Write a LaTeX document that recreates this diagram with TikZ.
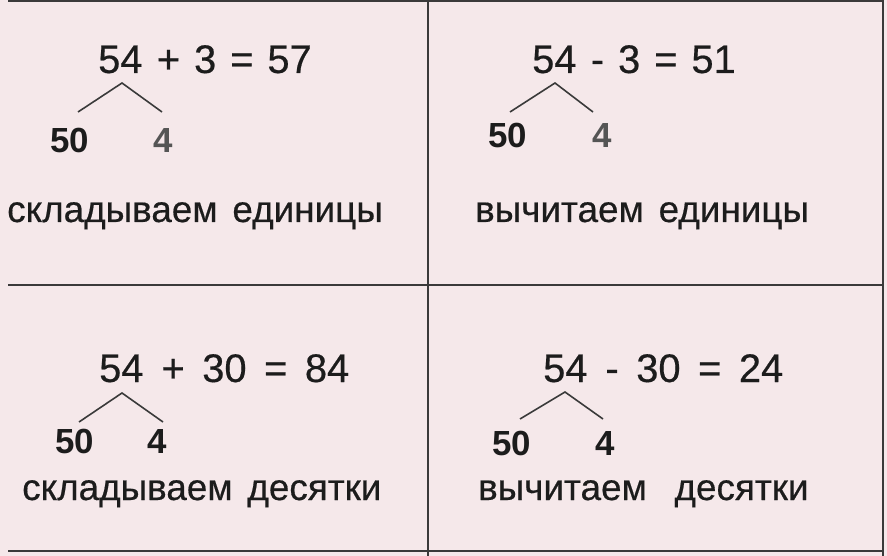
\documentclass[tikz,border=0pt]{standalone}
\usepackage{fontspec}
\setmainfont{Liberation Sans}
\newfontfamily\printfont[FakeBold=0.45]{Liberation Sans}
\newcommand\eqnfont{\printfont\fontsize{40}{40}\selectfont\spaceskip=0.35em\relax}
\newcommand\eqnwidefont{\printfont\fontsize{40}{40}\selectfont\spaceskip=0.44em\relax}
\newcommand\wordfont{\printfont\fontsize{37}{37}\selectfont\spaceskip=0.4em\relax}
\definecolor{paper}{HTML}{F5E8EA}
\definecolor{ink}{HTML}{1C1C1C}
\definecolor{greyink}{HTML}{555555}
\definecolor{rule}{HTML}{3A3A3A}
\tikzset{
  eqn/.style={anchor=base west, inner sep=0pt, text=ink, font=\eqnfont},
  eqnwide/.style={eqn, font=\eqnwidefont},
  part/.style={anchor=base west, inner sep=0pt, text=ink, font=\fontsize{35}{35}\selectfont\bfseries},
  word/.style={anchor=base west, inner sep=0pt, text=ink, font=\wordfont},
  branch/.style={draw=rule, line width=1.6bp},
  grid/.style={draw=rule, line width=2.6bp}
}
\begin{document}
\begin{tikzpicture}[x=1bp, y=-1bp]
        \fill[paper] (0,0) rectangle (887,556);
        \useasboundingbox (0,0) rectangle (887,556);

        % table rules
        \draw[grid] (8,1) -- (883,1);
        \draw[grid] (8,285) -- (883,285);
        \draw[grid] (8,551) -- (883,551);
        \draw[grid] (428,0) -- (428,556);
        \draw[grid] (883,0) -- (883,556);

        % top left
        \node(a54) at (98,73) [eqn]{54};
        \node(aeq) at (a54.base east) [eqn]{~+ 3 = 57};
        \node(a50) at (50,153) [part]{50};
        \node(a4) at (153,153) [part, text=greyink]{4};
        \coordinate(atop) at (122,83);
        \coordinate(al) at (78,112);
        \coordinate(ar) at (162,112);
        \draw[branch] (al) -- (atop) -- (ar);
        \node(atxt) at (7,222) [word]{складываем единицы};

        % top right
        \node(b54) at (532,73) [eqn]{54};
        \node(beq) at (b54.base east) [eqn]{~- 3 = 51};
        \node(b50) at (488,148) [part]{50};
        \node(b4) at (592,148) [part, text=greyink]{4};
        \coordinate(btop) at (555,83);
        \coordinate(bl) at (510,112);
        \coordinate(br) at (593,112);
        \draw[branch] (bl) -- (btop) -- (br);
        \node(btxt) at (475,222) [word]{вычитаем единицы};

        % bottom left
        \node(c54) at (99,382) [eqnwide]{54};
        \node(ceq) at (c54.base east) [eqnwide]{~+ 30 = 84};
        \node(c50) at (55,453) [part]{50};
        \node(c4) at (147,453) [part]{4};
        \coordinate(ctop) at (122,393);
        \coordinate(cl) at (79,422);
        \coordinate(cr) at (163,422);
        \draw[branch] (cl) -- (ctop) -- (cr);
        \node(ctxt) at (22,500) [word]{складываем десятки};

        % bottom right
        \node(d54) at (543,382) [eqnwide]{54};
        \node(deq) at (d54.base east) [eqnwide]{~- 30 = 24};
        \node(d50) at (492,455) [part]{50};
        \node(d4) at (595,455) [part]{4};
        \coordinate(dtop) at (565,392);
        \coordinate(dl) at (520,419);
        \coordinate(dr) at (603,419);
        \draw[branch] (dl) -- (dtop) -- (dr);
        \node(dtxt) at (478,500) [word]{вычитаем\hspace{0.35em} десятки};
\end{tikzpicture}
\end{document}
